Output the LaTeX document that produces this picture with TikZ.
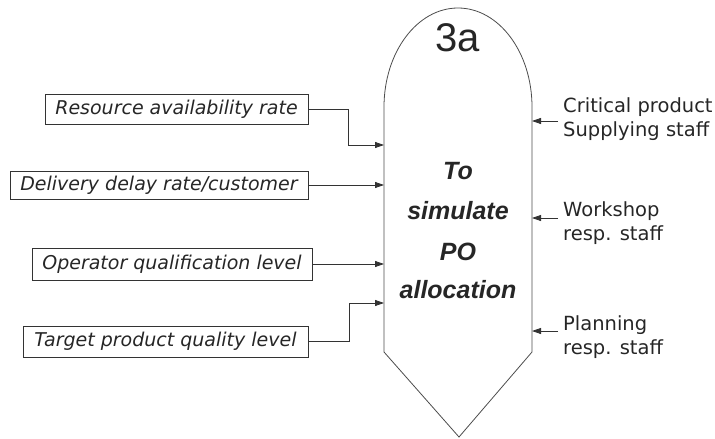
\documentclass[tikz,border=0pt]{standalone}
\usepackage{fontspec}
\setmainfont{DejaVu Sans}
\newfontfamily\arialf{Liberation Sans}
\usetikzlibrary{arrows.meta}
\begin{document}
\begin{tikzpicture}[x=1pt,y=1pt,
  inbox/.style={draw=black!80,line width=0.8pt,inner sep=0pt,font=\fontsize{19}{22}\selectfont\itshape,text=black!85},
  lab/.style={inner sep=0pt,anchor=west,align=left,font=\fontsize{19.5}{23.5}\selectfont,text=black!85},
  ctr/.style={font=\arialf\fontsize{25}{30}\selectfont\bfseries\itshape,text=black!85,inner sep=0pt},
  conn/.style={draw=black!80,line width=0.8pt,-{Triangle[length=9pt,width=6pt]}},
  outline/.style={draw=black!70,line width=0.8pt}]
\useasboundingbox (0,0) rectangle (715,-439);
% shape
\coordinate (tl) at (384,-107);
\coordinate (tr) at (532,-107);
\coordinate (bl) at (384,-352);
\coordinate (br) at (532,-352);
\coordinate (bot) at (459,-437);
\draw[outline] (bl) -- (tl) arc[start angle=180,end angle=0,x radius=74,y radius=99] -- (br) -- (bot) -- cycle;
\node[font=\arialf\fontsize{40}{40}\selectfont,text=black!85,inner sep=0pt] (title) at (458,-38) {3a};
\node[ctr] (t1) at (458,-171) {To};
\node[ctr] (t2) at (458,-211) {simulate};
\node[ctr] (t3) at (458,-252) {PO};
\node[ctr] (t4) at (458,-290) {allocation};
% input boxes
\node[inbox,minimum width=263pt,minimum height=30pt] (b1) at (176.5,-109.5) {Resource availability rate};
\node[inbox,minimum width=298pt,minimum height=28pt] (b2) at (159,-185) {Delivery delay rate/customer};
\node[inbox,minimum width=280pt,minimum height=32pt] (b3) at (172,-264) {Operator qualification level};
\node[inbox,minimum width=285pt,minimum height=31pt] (b4) at (165.5,-341.5) {Target product quality level};
\coordinate (i1) at (384,-145);
\coordinate (i2) at (384,-185);
\coordinate (i3) at (384,-264);
\coordinate (i4) at (384,-303);
\draw[conn] (b1.east) -- (348,-109.5) -- (348,-145) -- (i1);
\draw[conn] (b2.east) -- (i2);
\draw[conn] (b3.east) -- (i3);
\draw[conn] (b4.east) -- (349,-341.5) -- (349,-303) -- (i4);
% right labels
\node[lab] (r1) at (563,-119) {Critical product\\Supplying staff};
\node[lab] (r2) at (563,-223) {Workshop\\resp. staff};
\node[lab] (r3) at (563,-337) {Planning\\resp. staff};
\coordinate (o1) at (532,-121);
\coordinate (o2) at (532,-218);
\coordinate (o3) at (532,-331);
\draw[conn] ([xshift=-5pt]r1.west |- o1) -- (o1);
\draw[conn] ([xshift=-5pt]r2.west |- o2) -- (o2);
\draw[conn] ([xshift=-5pt]r3.west |- o3) -- (o3);
\end{tikzpicture}
\end{document}
